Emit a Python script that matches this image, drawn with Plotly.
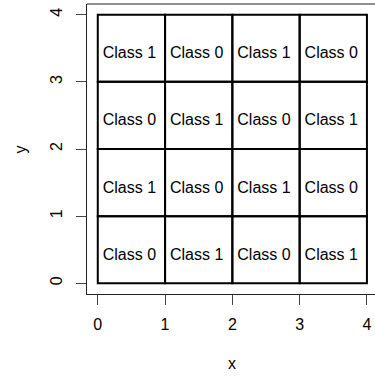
import plotly.graph_objects as go

# 4x4 grid of unit cells: lower-left corners and class labels
cell_x = [0, 1, 2, 3, 0, 1, 2, 3, 0, 1, 2, 3, 0, 1, 2, 3]
cell_y = [0, 0, 0, 0, 1, 1, 1, 1, 2, 2, 2, 2, 3, 3, 3, 3]
cell_class = [0, 1, 0, 1,
              1, 0, 1, 0,
              0, 1, 0, 1,
              1, 0, 1, 0]
tick_vals = [0, 1, 2, 3, 4]

FONT = "Liberation Sans, Arial, Helvetica, sans-serif"

fig = go.Figure()

# frame around the plotting region (top edge; bottom/left come from the axis lines)
fig.add_shape(type="line", xref="paper", yref="paper", x0=0, x1=1, y0=1, y1=1,
              line=dict(color="#222222", width=1))

# cell outlines
for cx, cy in zip(cell_x, cell_y):
    fig.add_shape(type="rect", xref="x", yref="y",
                  x0=cx, x1=cx + 1, y0=cy, y1=cy + 1,
                  line=dict(color="black", width=2), fillcolor="rgba(0,0,0,0)")

# class labels in the middle of each cell
fig.add_trace(go.Scatter(
    x=[cx + 0.47 for cx in cell_x],
    y=[cy + 0.41 for cy in cell_y],
    mode="text",
    text=[f"Class {c}" for c in cell_class],
    textposition="middle center",
    textfont=dict(family=FONT, size=16, color="black"),
    hoverinfo="skip", showlegend=False,
))

axis_common = dict(
    showgrid=False, zeroline=False, automargin=False,
    showline=True, linecolor="#222222", linewidth=1,
    ticks="outside", ticklen=10, tickwidth=1, tickcolor="#444444",
    tickvals=tick_vals, ticktext=[str(v) for v in tick_vals],
    tickfont=dict(family=FONT, size=16, color="black"),
)

fig.update_xaxes(range=[-0.16, 4.12], ticklabelstandoff=6, **axis_common)
fig.update_yaxes(range=[-0.16, 4.16], tickangle=-90, ticklabelstandoff=8, **axis_common)

# axis titles
fig.add_annotation(text="x", x=2, xref="x", y=-0.239, yref="paper",
                   showarrow=False, font=dict(family=FONT, size=16, color="black"),
                   xanchor="center", yanchor="middle")
fig.add_annotation(text="y", y=2, yref="y", x=-0.231, xref="paper",
                   showarrow=False, textangle=-90,
                   font=dict(family=FONT, size=16, color="black"),
                   xanchor="center", yanchor="middle")

fig.update_layout(
    width=375, height=377,
    margin=dict(l=87, r=0, t=4, b=83, pad=0),
    paper_bgcolor="white", plot_bgcolor="white",
    showlegend=False,
)

fig.write_html("out.html")
